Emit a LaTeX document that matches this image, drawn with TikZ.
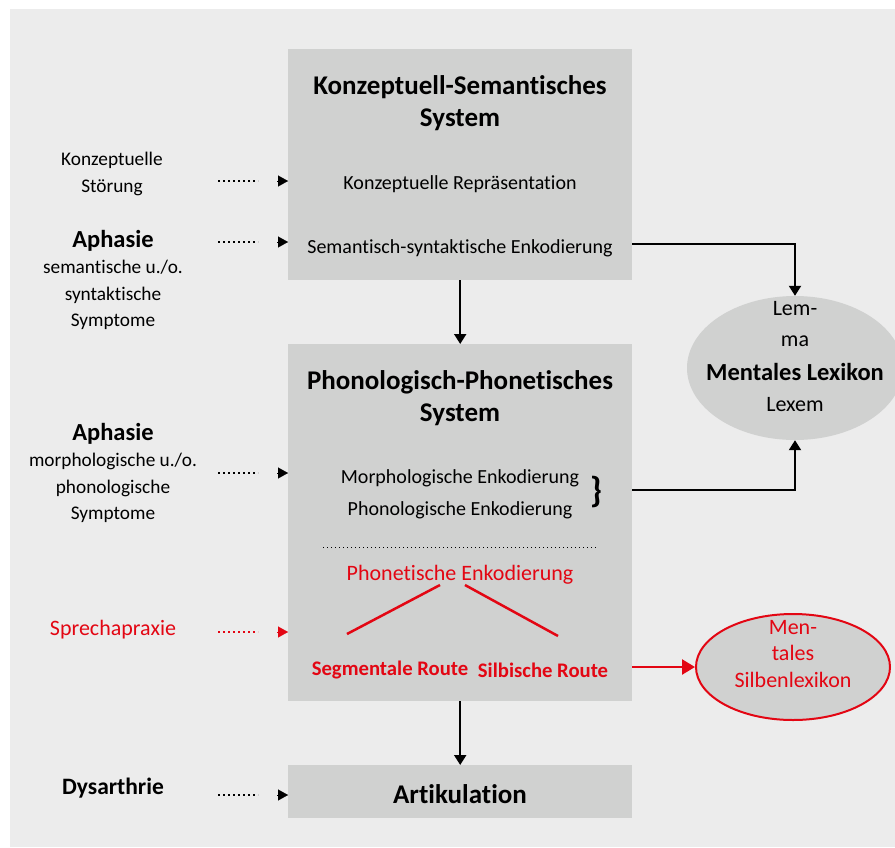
\documentclass[tikz,border=0pt]{standalone}
\usepackage{fontspec}
\setmainfont{Carlito}[Ligatures=NoCommon]
\usetikzlibrary{arrows.meta,shapes.geometric}
\definecolor{bg}{HTML}{ECECEC}
\definecolor{boxg}{HTML}{D0D1D0}
\definecolor{rd}{HTML}{E30613}
\begin{document}
\begin{tikzpicture}[x=1pt,y=-1pt,
  box/.style={fill=boxg, draw=none, inner sep=0, anchor=north west},
  tr/.style={inner sep=0, align=center, font=\fontsize{20}{32}\selectfont},
  tl/.style={inner sep=0, align=center, font=\fontsize{19.3}{26.6}\selectfont},
  tn/.style={inner sep=0, align=center, font=\fontsize{22}{26.5}\selectfont},
  tb/.style={inner sep=0, align=center, font=\bfseries\fontsize{27}{32}\selectfont},
  tbs/.style={inner sep=0, align=center, font=\bfseries\fontsize{24.5}{26.6}\selectfont},
  dotl/.style={line width=2pt, dash pattern=on 2pt off 3pt},
  tipa/.style={-{Triangle[length=10pt,width=11pt]}, line width=0.1pt},
  conn/.style={line width=2pt, -{Triangle[length=10pt,width=12pt]}},
  ell/.style={ellipse, fill=boxg, inner sep=0}
]
\useasboundingbox (0,0) rectangle (895,847);
\clip (0,0) rectangle (895,847);
\fill[bg] (10,9) rectangle (895,847);

% boxes
\node[box, minimum width=344pt, minimum height=231pt] (b1) at (288,49) {};
\node[box, minimum width=344pt, minimum height=357pt] (b2) at (288,344) {};
\node[box, minimum width=344pt, minimum height=53pt] (b3) at (288,765) {};

% box 1 texts
\node[tb] (t1) at (460,103) {Konzeptuell-Semantisches\\System};
\node[tr] (kr) at (460,184) {Konzeptuelle Repräsentation};
\node[tr] (se) at (460,248) {Semantisch-syntaktische Enkodierung};

% box 2 texts
\node[tb] (t2) at (460,398) {Phonologisch-Phonetisches\\System};
\node[tr] (mp) at (460,494) {Morphologische Enkodierung\\Phonologische Enkodierung};
\node[inner sep=0, font=\bfseries\fontsize{36}{36}\selectfont] (br) at (596,492) {\}};
\coordinate (d1) at (323,547);
\coordinate (d2) at (597,547);
\draw[line width=1pt, dash pattern=on 1pt off 3pt] (d1) -- (d2);
\node[tn, text=rd] (pe) at (460,575) {Phonetische Enkodierung};
\node[tbs, text=rd, font=\bfseries\fontsize{20.7}{24}\selectfont] (sr) at (390,670) {Segmentale Route};
\node[tbs, text=rd, font=\bfseries\fontsize{20.7}{24}\selectfont] (sb) at (543,670) {Silbische Route};
\coordinate (pa) at (440,585);
\coordinate (pb) at (465,585);
\coordinate (sra) at (347,634);
\coordinate (sba) at (558,636);
\draw[rd, line width=2.5pt] (pa) -- (sra);
\draw[rd, line width=2.5pt] (pb) -- (sba);

% box 3
\node[tb] (ar) at (460,794) {Artikulation};

% vertical arrows
\draw[conn] (b1.south) -- (b2.north);
\draw[conn] (b2.south) -- (b3.north);

% left labels
\node[tl] (l1) at (112,174) {Konzeptuelle\\Störung};
\node[tl] (l2) at (113,280) {\textbf{\fontsize{24.5}{26.6}\selectfont Aphasie}\\semantische u./o.\\syntaktische\\Symptome};
\node[tl] (l3) at (113,473) {\textbf{\fontsize{24.5}{26.6}\selectfont Aphasie}\\morphologische u./o.\\phonologische\\Symptome};
\node[tn, text=rd] (l4) at (113,630) {Sprechapraxie};
\node[tbs, font=\bfseries\fontsize{23.5}{26}\selectfont] (l5) at (113,788) {Dysarthrie};

% dotted input arrows
\foreach \yy/\cc/\nm in {181/black/a, 242/black/b, 473/black/c, 632/rd/d, 795/black/e}{
  \coordinate (\nm0) at (218,\yy);
  \coordinate (\nm1) at (258,\yy);
  \coordinate (\nm2) at (277,\yy);
  \coordinate (\nm3) at (288,\yy);
  \draw[dotl, \cc] (\nm0) -- (\nm1);
  \draw[tipa, \cc, fill=\cc] (\nm2) -- (\nm3);
}

% mental lexicon
\node[ell, minimum width=216pt, minimum height=144pt] (ml) at (795,368) {};
\node[tn] (lm1) at (795,309) {Lem-};
\node[tn] (lm2) at (795,341) {ma};
\node[tbs] (lm3) at (795,372) {Mentales Lexikon};
\node[tn] (lm4) at (795,405) {Lexem};

\coordinate (s1) at (632,244);
\coordinate (s2) at (632,490);
\draw[conn] (s1) -| (ml.north);
\draw[conn] (s2) -| (ml.south);

% syllable lexicon
\node[ell, draw=rd, line width=2pt, minimum width=194pt, minimum height=106pt] (sl) at (793,667) {};
\node[tn, text=rd] (slt) at (793,654) {Men-\\tales\\Silbenlexikon};
\coordinate (s3) at (632,667);
\draw[rd, line width=2.5pt, -{Triangle[length=13pt,width=15pt]}] (s3) -- (sl.west);
\end{tikzpicture}
\end{document}
